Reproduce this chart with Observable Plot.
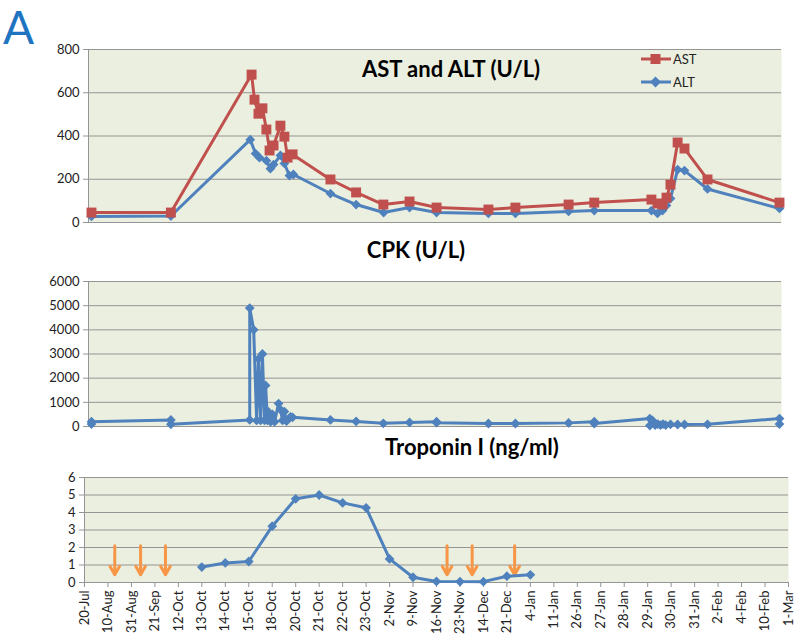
<!DOCTYPE html>
<html><head><meta charset="utf-8">
<script src="https://cdn.jsdelivr.net/npm/d3@7"></script>
<script src="https://cdn.jsdelivr.net/npm/@observablehq/plot@0.6"></script>
<style>
body{margin:0;background:#fff;font-family:Lato,"Open Sans",sans-serif;}
#wrap{position:relative;width:800px;height:639px;overflow:hidden;background:#fff;}
.abs{position:absolute;line-height:1;white-space:nowrap;}
.title{font-weight:700;font-size:22px;color:#000;text-align:center;width:400px;}
.leg{font-size:13px;color:#222;display:flex;align-items:center;}
</style></head><body>
<div id="wrap">
  <div class="abs" style="left:3px;top:4px;font-size:46px;color:#1f74c2;">A</div>
  <div id="p1" class="abs" style="left:0;top:40px;"></div>
  <div id="p2" class="abs" style="left:0;top:270px;"></div>
  <div id="p3" class="abs" style="left:0;top:467px;"></div>
  <div class="abs title" style="left:251px;top:58px;">AST and ALT (U/L)</div>
  <div class="abs title" style="left:216px;top:239px;">CPK (U/L)</div>
  <div class="abs title" style="left:272px;top:436px;">Troponin I (ng/ml)</div>
  <div class="abs leg" style="left:641px;top:52px;"><svg width="31" height="14"><line x1="0" y1="7" x2="30" y2="7" stroke="#c0504d" stroke-width="3"/><rect x="9.5" y="2" width="10" height="10" fill="#c0504d"/></svg><span style="margin-left:1px">AST</span></div>
  <div class="abs leg" style="left:641px;top:75px;"><svg width="31" height="14"><line x1="0" y1="7" x2="30" y2="7" stroke="#4f81bd" stroke-width="3"/><path d="M14.5 1.5 L20 7 L14.5 12.5 L9 7 Z" fill="#4f81bd"/></svg><span style="margin-left:1px">ALT</span></div>
</div>
<script>
// ---- data ----
const astT = [0,3,6.05,6.16,6.31,6.46,6.61,6.73,6.88,7.14,7.29,7.41,7.6,9.03,10.0,11.03,12.02,13.04,15.0,16.02,18.03,19.0,21.16,21.39,21.58,21.73,21.88,22.15,22.41,23.28,26];
const astV = [46,46,684,568,503,528,430,333,356,448,397,300,315,199,139,83,97,69,60,69,83,92,106,88,83,115,175,370,342,199,92];
const altT = [0,3,6.0,6.2,6.35,6.61,6.76,6.88,7.14,7.29,7.48,7.63,9.03,10.0,11.04,12.02,13.04,15.0,16.02,18.03,19.0,21.16,21.39,21.58,21.73,21.88,22.15,22.41,23.28,26];
const altV = [28,30,383,319,300,286,249,268,310,273,217,222,134,83,46,69,46,42,42,51,55,55,42,55,79,111,245,240,155,65];
const cpkT = [0,0,3,3,5.98,5.98,6.13,6.24,6.31,6.39,6.46,6.54,6.58,6.65,6.69,6.77,6.84,6.92,7.07,7.14,7.22,7.29,7.37,7.52,7.6,9.03,10.0,11.03,12.02,13.04,13.04,15.0,16.02,18.03,19.0,19.0,21.1,21.1,21.2,21.3,21.4,21.5,21.6,21.7,21.88,22.15,22.41,23.28,26,26];
const cpkV = [100,200,270,90,270,4900,4000,250,2800,250,3000,250,1700,250,600,200,500,200,950,700,250,620,220,400,380,270,210,130,170,200,160,124,124,150,200,124,330,40,250,60,100,60,100,60,90,83,83,90,330,100];
const dateLabels = ["20-Jul","10-Aug","31-Aug","21-Sep","12-Oct","13-Oct","14-Oct","15-Oct","18-Oct","20-Oct","21-Oct","22-Oct","23-Oct","2-Nov","9-Nov","16-Nov","23-Nov","14-Dec","21-Dec","4-Jan","11-Jan","26-Jan","27-Jan","28-Jan","29-Jan","30-Jan","31-Jan","2-Feb","4-Feb","10-Feb","1-Mar"];
const tropDates = ["13-Oct","14-Oct","15-Oct","18-Oct","20-Oct","21-Oct","22-Oct","23-Oct","2-Nov","9-Nov","16-Nov","23-Nov","14-Dec","21-Dec","4-Jan"];
const tropV = [0.88,1.12,1.2,3.22,4.78,5.0,4.55,4.27,1.35,0.3,0.06,0.05,0.05,0.36,0.44];
const arrowPos = [1.29,2.39,3.45,15.45,16.52,18.33];
const arrowFrom = 2.1, arrowTo = 0.45;
const astTicks = [0,200,400,600,800];
const cpkTicks = [0,1000,2000,3000,4000,5000,6000];
const tropTicks = [0,1,2,3,4,5,6];

// ---- styling ----
const RED = "#c0504d", BLUE = "#4f81bd", ORANGE = "#f79646";
const BG = "#ebefdf", GRID = "#959595";
const xDomain = [-0.113, 26.076];
const baseStyle = {fontFamily: "Lato, 'Open Sans', sans-serif", fontSize: "13px", color: "#222", background: "transparent", overflow: "visible"};

const ast = astT.map((t, i) => ({t, v: astV[i]}));
const alt = altT.map((t, i) => ({t, v: altV[i]}));
const cpk = cpkT.map((t, i) => ({t, v: cpkV[i]}));
const trop = tropDates.map((d, i) => ({i: dateLabels.indexOf(d), v: tropV[i]}));

function yAxisMarks(ticks) {
  return [
    Plot.frame({fill: BG, stroke: null}),
    Plot.gridY(ticks, {stroke: GRID, strokeOpacity: 1, strokeWidth: 1}),
    Plot.axisY(ticks, {tickSize: 5, tickPadding: 4, stroke: GRID, fill: "#222", label: null, tickFormat: d => String(d)})
  ];
}

const p1 = Plot.plot({
  width: 800, height: 186, marginTop: 9, marginBottom: 4, marginLeft: 88, marginRight: 19,
  x: {domain: xDomain, axis: null}, y: {domain: [0, 800], axis: null},
  style: baseStyle,
  marks: [
    ...yAxisMarks(astTicks),
    Plot.ruleX([xDomain[0]], {stroke: GRID}),
    Plot.line(alt, {x: "t", y: "v", stroke: BLUE, strokeWidth: 3}),
    Plot.dot(alt, {x: "t", y: "v", symbol: "diamond2", r: 4.4, fill: BLUE}),
    Plot.line(ast, {x: "t", y: "v", stroke: RED, strokeWidth: 3}),
    Plot.dot(ast, {x: "t", y: "v", symbol: "square", r: 5.6, fill: RED})
  ]
});
document.getElementById("p1").append(p1);

const p2 = Plot.plot({
  width: 800, height: 160, marginTop: 11, marginBottom: 4, marginLeft: 88, marginRight: 19,
  x: {domain: xDomain, axis: null}, y: {domain: [0, 6000], axis: null},
  style: baseStyle,
  marks: [
    ...yAxisMarks(cpkTicks),
    Plot.ruleX([xDomain[0]], {stroke: GRID}),
    Plot.line(cpk, {x: "t", y: "v", stroke: BLUE, strokeWidth: 3}),
    Plot.dot(cpk, {x: "t", y: "v", symbol: "diamond2", r: 4.4, fill: BLUE})
  ]
});
document.getElementById("p2").append(p2);

const p3 = Plot.plot({
  width: 800, height: 172, marginTop: 10, marginBottom: 57, marginLeft: 84, marginRight: 12,
  x: {domain: [0, dateLabels.length - 1], axis: null}, y: {domain: [0, 6], axis: null},
  style: baseStyle,
  marks: [
    ...yAxisMarks(tropTicks),
    Plot.ruleX([0], {stroke: GRID}),
    Plot.axisX(d3.range(dateLabels.length), {tickFormat: i => dateLabels[i], tickRotate: -90, tickSize: 5, tickPadding: 3, stroke: GRID, fill: "#222", label: null}),
    Plot.arrow(arrowPos, {x1: d => d, x2: d => d, y1: () => arrowFrom, y2: () => arrowTo, stroke: ORANGE, strokeWidth: 3, headLength: 12}),
    Plot.line(trop, {x: "i", y: "v", stroke: BLUE, strokeWidth: 3}),
    Plot.dot(trop, {x: "i", y: "v", symbol: "diamond2", r: 4.4, fill: BLUE})
  ]
});
document.getElementById("p3").append(p3);
</script>
</body></html>
